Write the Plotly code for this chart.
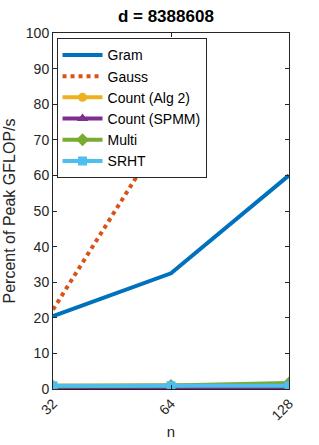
import plotly.graph_objects as go

n_vals = [32, 64, 128]
n_labels = ["32", "64", "128"]
gram = [20.5, 32.5, 60.0]
gauss = [22.3, 75.0, None]
count_alg2 = [1.0, 1.0, 1.1]
count_spmm = [0.2, 0.2, 0.2]
multi = [0.8, 1.0, 1.7]
srht = [0.9, 0.9, 0.9]
y_ticks = list(range(0, 101, 10))

fig = go.Figure()
fig.add_trace(go.Scatter(x=n_vals, y=gram, name="Gram", mode="lines",
                         line=dict(color="#0072BD", width=4)))
fig.add_trace(go.Scatter(x=n_vals, y=gauss, name="Gauss", mode="lines",
                         line=dict(color="#D95319", width=4, dash="dot")))
fig.add_trace(go.Scatter(x=n_vals, y=count_alg2, name="Count (Alg 2)", mode="lines+markers",
                         line=dict(color="#EDB120", width=4),
                         marker=dict(symbol="circle", size=9, color="#EDB120")))
fig.add_trace(go.Scatter(x=n_vals, y=count_spmm, name="Count (SPMM)", mode="lines+markers",
                         line=dict(color="#7E2F8E", width=4),
                         marker=dict(symbol="triangle-up", size=10, color="#7E2F8E")))
fig.add_trace(go.Scatter(x=n_vals, y=multi, name="Multi", mode="lines+markers",
                         line=dict(color="#77AC30", width=4),
                         marker=dict(symbol="diamond", size=10, color="#77AC30")))
fig.add_trace(go.Scatter(x=n_vals, y=srht, name="SRHT", mode="lines+markers",
                         line=dict(color="#4DBEEE", width=4),
                         marker=dict(symbol="square", size=9, color="#4DBEEE")))

fig.update_layout(
    width=319, height=445,
    margin=dict(l=53, r=30, t=33, b=56),
    paper_bgcolor="white", plot_bgcolor="white",
    font=dict(family="Liberation Sans, Arial, sans-serif", size=14, color="#262626"),
    title=dict(text="<b>d = 8388608</b>", x=0.52, xanchor="center", y=0.963, yanchor="middle",
               font=dict(size=17, color="black")),
    showlegend=True,
    legend=dict(x=0.015, y=0.985, xanchor="left", yanchor="top",
                bgcolor="white", bordercolor="#262626", borderwidth=1,
                font=dict(size=14, color="black"), itemwidth=40, tracegroupgap=0),
)
fig.update_xaxes(type="log", range=[1.50515, 2.10721], tickvals=n_vals, ticktext=n_labels,
                 tickangle=-45, showline=True, linecolor="#262626", linewidth=1, mirror="ticks",
                 ticks="inside", ticklen=4, tickcolor="#262626", showgrid=False, zeroline=False,
                 automargin=False,
                 title=dict(text="n", standoff=4, font=dict(size=15)), tickfont=dict(size=14))
fig.update_yaxes(range=[0, 100], tickvals=y_ticks, showline=True, linecolor="#262626", linewidth=1,
                 mirror="ticks", ticks="inside", ticklen=4, tickcolor="#262626", showgrid=False,
                 zeroline=False, automargin=False,
                 title=dict(text="Percent of Peak GFLOP/s", standoff=6, font=dict(size=16)),
                 tickfont=dict(size=14))

fig.write_html("out.html", config={"displayModeBar": False},
               post_script="document.body.style.margin='0';")
